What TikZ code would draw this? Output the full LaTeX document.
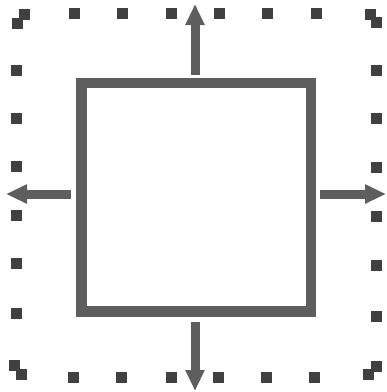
\documentclass[tikz,border=0pt]{standalone}
\usetikzlibrary{arrows.meta}
\definecolor{dotcol}{HTML}{404040}
\definecolor{boxcol}{HTML}{5E5E5E}
\begin{document}
\begin{tikzpicture}[x=1pt,y=-1pt,
  dotsq/.style={fill=dotcol,draw=none,minimum size=11pt,inner sep=0pt,shape=rectangle},
  outarrow/.style={draw=boxcol,line width=9pt,-{Triangle[width=18pt,length=21pt]}},
  box/.style={draw=boxcol,line width=10.5pt,inner sep=0pt,minimum width=229.5pt,minimum height=228.5pt,shape=rectangle}]
\useasboundingbox[fill=white] (0,0) rectangle (387,392);
% dotted frame
\foreach \x [count=\i] in {74,122,171,219,267,316} {
  \node[dotsq] (t\i) at (\x,13) {};
}
\foreach \x [count=\i] in {73,121,171,218,266,314} {
  \node[dotsq] (b\i) at (\x,377) {};
}
\foreach \y [count=\i] in {70,118,166,215,263,313} {
  \node[dotsq] (l\i) at (16,\y) {};
}
\foreach \y [count=\i] in {70,118,167,216,265,316} {
  \node[dotsq] (r\i) at (376,\y) {};
}
\node[dotsq] (tla) at (24,14) {};
\node[dotsq] (tlb) at (17,23) {};
\node[dotsq] (tra) at (370,14) {};
\node[dotsq] (trb) at (376,22) {};
\node[dotsq] (bla) at (14,365) {};
\node[dotsq] (blb) at (21,374) {};
\node[dotsq] (bra) at (376,366) {};
\node[dotsq] (brb) at (368,374) {};
% central square
\node[box] (sq) at (196.25,197.25) {};
% arrow tips
\coordinate (tipN) at (195,4);
\coordinate (tipS) at (195,391);
\coordinate (tipW) at (6,194);
\coordinate (tipE) at (386,194);
\draw[outarrow,shorten <=3pt] (sq.north -| tipN) -- (tipN);
\draw[outarrow,shorten <=5pt] (sq.south -| tipS) -- (tipS);
\draw[outarrow,shorten <=5pt] (sq.west |- tipW) -- (tipW);
\draw[outarrow,shorten <=4pt] (sq.east |- tipE) -- (tipE);
\end{tikzpicture}
\end{document}
